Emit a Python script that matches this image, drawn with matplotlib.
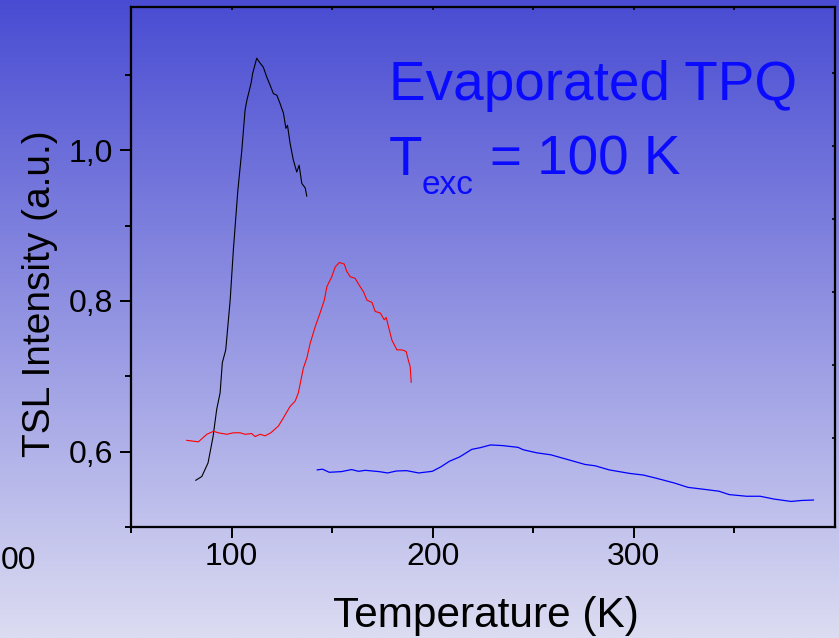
import numpy as np
import matplotlib
matplotlib.use("Agg")
import matplotlib.pyplot as plt
from matplotlib.ticker import FuncFormatter, MultipleLocator, FixedLocator

plt.rcParams['font.family'] = ['Liberation Sans', 'DejaVu Sans']

# ---- data ----
black_T = [82.2, 85.2, 88.3, 90.8, 92.6, 94.3, 95.4, 97.1, 99.3, 100.9, 103.1, 105.1,
           106.7, 107.6, 109.7, 110.5, 112.5, 113.8, 115.8, 117.5, 119.2, 120.8, 122.5,
           124.1, 125.8, 127.0, 127.8, 129.1, 130.7, 132.4, 133.6, 134.9, 136.6, 137.4]
black_I = [0.562, 0.567, 0.585, 0.620, 0.656, 0.678, 0.718, 0.735, 0.801, 0.868, 0.946, 1.000,
           1.053, 1.066, 1.089, 1.102, 1.122, 1.117, 1.110, 1.097, 1.086, 1.075, 1.073,
           1.062, 1.049, 1.029, 1.033, 1.009, 0.987, 0.971, 0.980, 0.956, 0.950, 0.939]

red_T = [77.7, 83.5, 87.7, 91.0, 93.4, 97.6, 100.9, 104.2, 106.7, 110.0, 111.7, 114.2,
         116.7, 119.5, 123.3, 125.8, 129.1, 131.6, 133.2, 135.7, 137.4, 139.1, 141.6,
         144.0, 146.1, 147.4, 149.8, 151.5, 153.6, 156.0, 157.3, 159.0, 161.4, 163.9,
         165.6, 167.3, 169.8, 171.4, 173.9, 175.9, 176.9, 178.0, 179.7, 182.2, 184.7,
         186.8, 188.0, 188.8, 189.3]
red_I = [0.615, 0.613, 0.623, 0.627, 0.625, 0.623, 0.625, 0.625, 0.623, 0.624, 0.620, 0.623,
         0.621, 0.625, 0.634, 0.645, 0.660, 0.667, 0.678, 0.711, 0.724, 0.744, 0.766,
         0.784, 0.801, 0.819, 0.832, 0.845, 0.851, 0.849, 0.839, 0.832, 0.830, 0.819,
         0.812, 0.801, 0.798, 0.786, 0.784, 0.775, 0.778, 0.766, 0.748, 0.735, 0.735,
         0.733, 0.720, 0.713, 0.692]

blue_T = [142.6, 145.2, 148.6, 154.6, 159.7, 163.1, 166.5, 173.3, 177.6, 181.9, 187.0,
          193.0, 199.8, 204.1, 208.3, 213.4, 219.4, 223.7, 228.8, 234.8, 242.4, 245.0,
          251.8, 258.7, 265.5, 275.7, 280.8, 287.7, 297.9, 304.8, 311.6, 320.1, 326.9,
          335.5, 342.3, 347.4, 356.0, 362.8, 369.6, 378.2, 383.3, 389.3]
blue_I = [0.5758, 0.5767, 0.5726, 0.5735, 0.5762, 0.5739, 0.5752, 0.5735, 0.5717, 0.5743,
          0.5748, 0.5717, 0.5739, 0.5799, 0.5872, 0.5930, 0.6030, 0.6053, 0.6089, 0.6080,
          0.6057, 0.6025, 0.5984, 0.5958, 0.5907, 0.5830, 0.5812, 0.5758, 0.5711, 0.5689,
          0.5644, 0.5584, 0.5526, 0.5498, 0.5475, 0.5430, 0.5408, 0.5408, 0.5371, 0.5339,
          0.5352, 0.5358]

x_major = [100, 200, 300]
y_major = [0.6, 0.8, 1.0]

W, H = 839, 638
fig = plt.figure(figsize=(W / 100, H / 100), dpi=100)

# background gradient
bg = fig.add_axes([0, 0, 1, 1], zorder=0)
top = np.array([73, 76, 210]) / 255.0
bot = np.array([220, 220, 242]) / 255.0
t = np.linspace(0, 1, 256)[:, None]
grad = (top[None, :] * (1 - t) + bot[None, :] * t)[:, None, :]
bg.imshow(grad, aspect='auto', extent=[0, 1, 0, 1])
bg.set_axis_off()

def px(x, y):
    return x / W, 1 - y / H

l, b = px(131, 527)
r, tp = px(835, 7)
ax = fig.add_axes([l, b, r - l, tp - b], zorder=2)
ax.set_facecolor('none')

ax.plot(black_T, black_I, color='black', lw=0.8)
ax.plot(red_T, red_I, color='#ff0000', lw=0.8)
ax.plot(blue_T, blue_I, color='#0000ff', lw=0.9)

ax.set_xlim(50, 400)
ax.set_ylim(0.5, 1.19)
ax.xaxis.set_major_locator(FixedLocator(x_major))
ax.xaxis.set_minor_locator(FixedLocator([50, 150, 250, 350]))
ax.yaxis.set_major_locator(FixedLocator(y_major))
ax.yaxis.set_minor_locator(FixedLocator([0.5, 0.7, 0.9, 1.1]))
ax.yaxis.set_major_formatter(FuncFormatter(lambda v, p: f"{v:.1f}".replace('.', ',')))

for s in ax.spines.values():
    s.set_linewidth(1.5)
ax.tick_params(which='major', direction='out', length=8, width=1.4, labelsize=23)
ax.tick_params(which='minor', direction='out', length=4.5, width=1.4)
ax.tick_params(axis='x', which='major', pad=2.5)
ax.tick_params(axis='y', which='major', pad=5)

ax.set_xlabel('Temperature (K)', fontsize=30.5, va='baseline')
ax.xaxis.set_label_coords((486 - 131) / 704, (527 - 627) / 520)
ax.set_ylabel('TSL Intensity (a.u.)', fontsize=28, va='baseline')
ax.yaxis.set_label_coords((50 - 131) / 704, (527 - 294) / 520)

# small inner ticks on top and right
axt = ax.twiny()
axt.set_xlim(50, 400)
axt.xaxis.set_major_locator(MultipleLocator(50))
axt.tick_params(axis='x', direction='in', length=2.5, width=1.2, labeltop=False)
axr = ax.twinx()
axr.set_ylim(-1.219, 5.904)
axr.yaxis.set_major_locator(FixedLocator([0, 1, 2, 3, 4, 5]))
axr.tick_params(axis='y', direction='in', length=2.5, width=1.2, labelright=False)
for a in (axt, axr):
    for s in a.spines.values():
        s.set_linewidth(1.5)

# annotation texts
blue = '#0a0aff'
fig.text(*px(389, 100), 'Evaporated TPQ', color=blue, fontsize=39.5, va='baseline', ha='left')
fig.text(*px(389, 175), 'T', color=blue, fontsize=39.5, va='baseline', ha='left')
fig.text(*px(422, 194), 'exc', color=blue, fontsize=24, va='baseline', ha='left')
fig.text(*px(490, 175), '= 100 K', color=blue, fontsize=39.5, va='baseline', ha='left')

# stray tick label fragment at the left edge
fig.text(*px(1, 569), '00', color='black', fontsize=23, va='baseline', ha='left')

fig.savefig('out.png', dpi=100)
